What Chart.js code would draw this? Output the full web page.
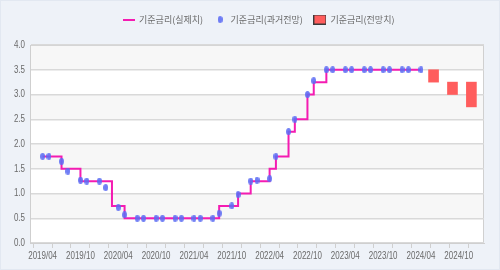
<!DOCTYPE html>
<html>
<head>
<meta charset="utf-8">
<script src="https://cdn.jsdelivr.net/npm/chart.js@4"></script>
<style>
    html, body { margin: 0; padding: 0; }
    body { width: 500px; height: 270px; background: #eef2f8; }
    .wrap { position: relative; width: 498px; height: 268px; border: 1px solid #e2e8f1; }
</style>
</head>
<body>
<div class="wrap"><canvas id="rateChart" width="498" height="268"></canvas></div>
<script>
// X axis: months counted from 2019/04 (= 0)
const tickLabels = ['2019/04', '2019/10', '2020/04', '2020/10', '2021/04', '2021/10',
    '2022/04', '2022/10', '2023/04', '2023/10', '2024/04', '2024/10'];

// Base rate, actual (monthly, 2019/04 .. 2024/04)
const actualRate = [
    1.75, 1.75, 1.75, 1.50, 1.50, 1.50, 1.25, 1.25, 1.25, 1.25, 1.25, 0.75, 0.75,
    0.50, 0.50, 0.50, 0.50, 0.50, 0.50, 0.50, 0.50, 0.50, 0.50, 0.50, 0.50, 0.50, 0.50, 0.50,
    0.75, 0.75, 0.75, 1.00, 1.00, 1.25, 1.25, 1.25, 1.50, 1.75, 1.75, 2.25, 2.50, 2.50,
    3.00, 3.25, 3.25,
    3.50, 3.50, 3.50, 3.50, 3.50, 3.50, 3.50, 3.50, 3.50, 3.50, 3.50, 3.50, 3.50, 3.50, 3.50, 3.50
];

// Past forecasts (meeting months)
const pastMonths = [0, 1, 3, 4, 6, 7, 9, 10, 12, 13, 15, 16, 18, 19, 21, 22, 24, 25, 27, 28,
    30, 31, 33, 34, 36, 37, 39, 40, 42, 43, 45, 46, 48, 49, 51, 52, 54, 55, 57, 58, 60];
const pastForecast = [1.75, 1.75, 1.65, 1.45, 1.27, 1.25, 1.25, 1.12, 0.72, 0.57, 0.50, 0.50,
    0.50, 0.50, 0.50, 0.50, 0.50, 0.50, 0.50, 0.60, 0.75, 0.98, 1.25, 1.27, 1.30, 1.75,
    2.25, 2.50, 3.00, 3.28, 3.50, 3.50, 3.50, 3.50, 3.50, 3.50, 3.50, 3.50, 3.50, 3.50, 3.50];

// Forecast ranges
const forecastMonths = [62, 65, 68];
const forecastLow = [3.25, 3.00, 2.75];
const forecastHigh = [3.50, 3.25, 3.25];

// Colors
const colors = {
    actual: '#f41cb2',
    past: 'rgba(92, 108, 244, 0.88)',
    forecast: '#ff5d5d',
    band: '#f7f7f7',
    grid: '#d9d9d9',
    text: '#6a6a6a'
};

// Small canvases used as point / legend icons
function icon(w, h, draw) {
    const c = document.createElement('canvas');
    c.width = w;
    c.height = h;
    draw(c.getContext('2d'), w, h);
    return c;
}

function ellipse(w, h) {
    return icon(w, h, (ctx) => {
        ctx.fillStyle = colors.past;
        ctx.beginPath();
        ctx.ellipse(w / 2, h / 2, w / 2, h / 2, 0, 0, Math.PI * 2);
        ctx.fill();
    });
}

const pointIcon = ellipse(5, 7);
const legendIcons = [
    icon(12, 2, (ctx, w, h) => { ctx.fillStyle = colors.actual; ctx.fillRect(0, 0, w, h); }),
    ellipse(5, 7),
    icon(13, 10, (ctx, w, h) => {
        ctx.fillStyle = colors.forecast;
        ctx.fillRect(0, 0, w, h);
        ctx.strokeStyle = '#3a3a3a';
        ctx.lineWidth = 1;
        ctx.strokeRect(0.5, 0.5, w - 1, h - 1);
    })
];

// Narrow text (the original uses a condensed face)
function narrowText(ctx, text, x, y, align) {
    ctx.save();
    ctx.translate(x, y);
    ctx.scale(0.76, 1);
    ctx.textAlign = align;
    ctx.textBaseline = 'middle';
    ctx.fillText(text, 0, 0);
    ctx.restore();
}

const plotDecor = {
    id: 'plotDecor',
    beforeLayout(chart) {
        // fixed legend height so the plot starts where the original does
        const legend = chart.legend;
        if (legend && !legend._fixed) {
            const fit = legend.fit.bind(legend);
            legend.fit = function () { fit(); this.height = 41; };
            legend._fixed = true;
        }
    },
    afterLayout(chart) {
        // legend is centred over the whole card, not the plot
        chart.legend.left += 16;
        chart.legend.right += 16;
    },
    beforeDraw(chart) {
        const { ctx, chartArea: a, scales: { y } } = chart;
        ctx.save();
        ctx.fillStyle = '#ffffff';
        ctx.fillRect(a.left, a.top, a.right - a.left, a.bottom - a.top);
        ctx.fillStyle = colors.band;
        for (let v = 0.5; v < 4; v += 1) {
            const top = y.getPixelForValue(v + 0.5);
            const bottom = y.getPixelForValue(v);
            ctx.fillRect(a.left, top, a.right - a.left, bottom - top);
        }
        ctx.strokeStyle = '#d0d0d0';
        ctx.lineWidth = 1;
        ctx.strokeRect(a.left + 0.5, a.top + 0.5, a.right - a.left - 1, a.bottom - a.top);
        ctx.restore();
    },
    afterDraw(chart) {
        const { ctx, chartArea: a, scales: { x, y } } = chart;
        ctx.save();
        ctx.fillStyle = colors.text;
        ctx.font = "10.5px 'Liberation Sans', Arial, sans-serif";
        tickLabels.forEach((label, i) => {
            narrowText(ctx, label, x.getPixelForValue(i * 6), a.bottom + 13, 'center');
        });
        y.ticks.forEach((t) => {
            narrowText(ctx, t.value.toFixed(1), a.left - 5, y.getPixelForValue(t.value), 'right');
        });
        ctx.restore();
    }
};

const datasets = [
    {
        type: 'line',
        label: '기준금리(실제치)',
        data: actualRate.map((v, i) => ({ x: i, y: v })),
        borderColor: colors.actual,
        borderWidth: 2,
        stepped: 'before',
        pointRadius: 0,
        order: 2
    },
    {
        type: 'line',
        label: '기준금리(과거전망)',
        data: pastMonths.map((m, i) => ({ x: m, y: pastForecast[i] })),
        showLine: false,
        pointStyle: pointIcon,
        pointRadius: 4,
        order: 1
    },
    {
        type: 'bar',
        label: '기준금리(전망치)',
        data: forecastMonths.map((m, i) => ({ x: m, y: [forecastLow[i], forecastHigh[i]] })),
        backgroundColor: colors.forecast,
        barThickness: 10,
        order: 3
    }
];

new Chart(document.getElementById('rateChart'), {
    type: 'line',
    data: { datasets },
    options: {
        responsive: false,
        animation: false,
        layout: { padding: { left: 0, right: 15, top: 3, bottom: 0 } },
        plugins: {
            tooltip: { enabled: false },
            legend: {
                position: 'top',
                labels: {
                    usePointStyle: true,
                    pointStyleWidth: 12,
                    padding: 11,
                    color: colors.text,
                    font: { family: "'Noto Sans CJK KR', sans-serif", size: 9 },
                    generateLabels: (chart) => chart.data.datasets.map((ds, i) => ({
                        text: ds.label,
                        pointStyle: legendIcons[i],
                        fillStyle: 'transparent',
                        strokeStyle: 'transparent',
                        lineWidth: 0,
                        fontColor: colors.text,
                        hidden: false,
                        datasetIndex: i
                    }))
                }
            }
        },
        scales: {
            x: {
                type: 'linear',
                min: -2,
                max: 70,
                offset: false,
                afterBuildTicks: (scale) => {
                    scale.ticks = [];
                    for (let m = 0; m <= 69; m += 3) scale.ticks.push({ value: m });
                },
                afterFit: (scale) => { scale.height = 26; },
                ticks: { display: false },
                grid: { drawOnChartArea: false, drawTicks: true, tickLength: 5, color: '#cfcfcf' },
                border: { display: true, color: '#cfcfcf' }
            },
            y: {
                min: 0,
                max: 4,
                afterFit: (scale) => { scale.width = 29; },
                ticks: { display: false, stepSize: 0.5 },
                grid: { color: colors.grid, lineWidth: 1.5, drawTicks: false },
                border: { display: true, color: '#cfcfcf' }
            }
        }
    },
    plugins: [plotDecor]
});
</script>
</body>
</html>
